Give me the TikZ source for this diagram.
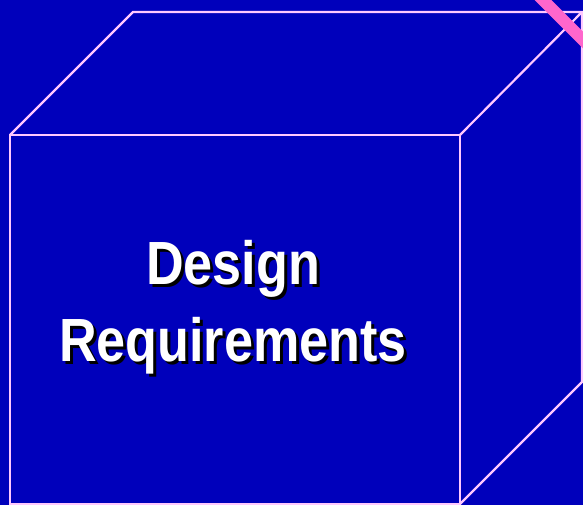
\documentclass[tikz,border=0pt]{standalone}
\usepackage{fontspec}
\setmainfont{Liberation Sans}

\definecolor{slideblue}{RGB}{0,0,187}
\definecolor{edgepink}{RGB}{255,200,255}
\definecolor{barpink}{RGB}{255,102,204}

\begin{document}
\begin{tikzpicture}[x=1pt,y=-1pt,
	cubeedge/.style={
		% thin light lines of the box
		draw=edgepink,
		line width=2.2pt,
		line join=miter
		},
	title/.style={
		% condensed bold white text
		font=\fontsize{61}{77}\selectfont\bfseries,
		align=center,
		inner sep=0pt,
		xscale=0.855,
		transform shape
		}]

	% page and background
	\useasboundingbox (0,0) rectangle (583,505);
	\fill[slideblue] (0,0) rectangle (583,505);

	% corners of the box
	\coordinate (ftl) at (10,135);
	\coordinate (ftr) at (460,135);
	\coordinate (fbr) at (460,504);
	\coordinate (fbl) at (10,504);
	\coordinate (btl) at (133,12);
	\coordinate (btr) at (582,12);
	\coordinate (bbr) at (582,382);

	\draw[cubeedge] (ftl) -- (ftr) -- (fbr) -- (fbl) -- cycle; % front face
	\draw[cubeedge] (ftl) -- (btl) -- (btr) -- (ftr); % top face
	\draw[cubeedge] (btr) -- (bbr) -- (fbr); % right face

	% pink bar in the corner
	\begin{scope}
		\clip (0,0) rectangle (583,505);
		\coordinate (barstart) at (530,-13);
		\coordinate (barend) at (600,57);
		\draw[barpink,line width=12pt] (barstart) -- (barend);
	\end{scope}

	% title with its shadow
	\node (titleshadow) [title,black] at (236,310) {Design\\Requirements};
	\node (titletext) [title,white] at (233,307) {Design\\Requirements};

\end{tikzpicture}
\end{document}
